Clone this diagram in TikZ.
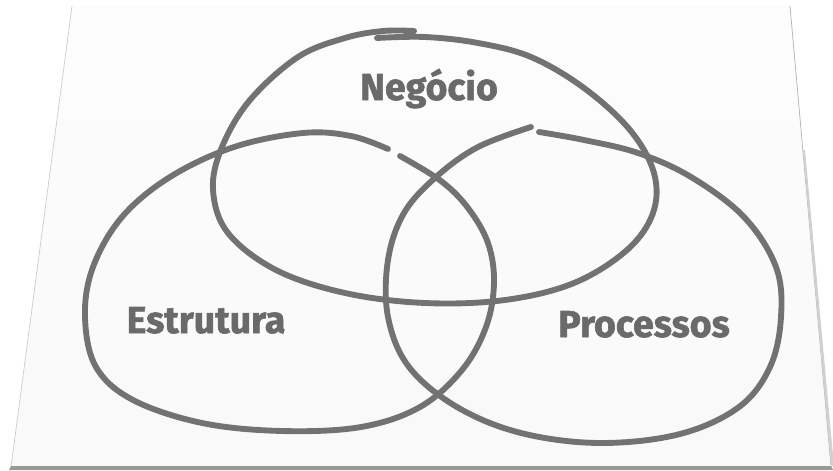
\documentclass[tikz,border=0pt]{standalone}
\usepackage{fontspec}
\setmainfont{Fira Sans}[BoldFeatures={FakeBold=1.6}]
\usetikzlibrary{positioning}
\definecolor{pencil}{HTML}{727272}
\definecolor{inkgray}{HTML}{6A6A6A}

\begin{document}
\begin{tikzpicture}[
  x=0.03cm, y=-0.03cm,
  ring/.style = {draw=pencil, line width=5pt, line cap=round, smooth, tension=0.6},
  area text/.style = {font=\fontsize{32}{32}\selectfont\bfseries, text=inkgray,
    anchor=base, inner sep=0pt},
  edge/.style = {line width=0.6pt},
]
\useasboundingbox (0,0) rectangle (833,470);

% sheet of paper
\shade[top color=black!1, bottom color=black!2.5] (72,6) -- (790,6) -- (831,466) -- (11,467) -- cycle;
\draw[edge, draw=black!20] (72,6) -- (11,467);
\draw[edge, draw=black!30] (790,6) -- (831,466);
\fill[black!18] (802.8,150) -- (831,466) -- (834,466) -- (805,150) -- cycle;
\fill[black!40] (11,466) -- (831,466) -- (833,470) -- (9,470) -- cycle;

% rings
\draw[ring] plot coordinates {(377,38) (425,37) (478,43) (531,57) (584,88) (630,130)
  (654,173) (653,213) (627,250) (574,283) (505,300) (425,303) (345,293) (276,270)
  (228,233) (213,190) (222,147) (250,100) (298,57) (345,38) (383,31) (414,31)};
\draw[ring] plot coordinates {(400,156) (441,181) (468,208) (488,243) (494,283)
  (486,327) (462,370) (420,407) (361,427) (282,431) (202,423) (133,400) (96,367)
  (85,317) (93,267) (122,217) (170,177) (234,147) (303,133) (351,136) (388,149)};
\draw[ring] plot coordinates {(539,132) (584,140) (638,153) (691,177) (744,217)
  (776,267) (781,317) (770,367) (739,407) (680,434) (600,443) (521,433) (457,407)
  (409,367) (388,317) (388,260) (404,213) (436,177) (478,147) (531,127)};

\node[area text] (negocio)   at (429,100) {Negócio};
\node[area text] (estrutura) at (206,333) {Estrutura};
\node[area text] (processos) at (644,337) {Processos};

\end{tikzpicture}
\end{document}
